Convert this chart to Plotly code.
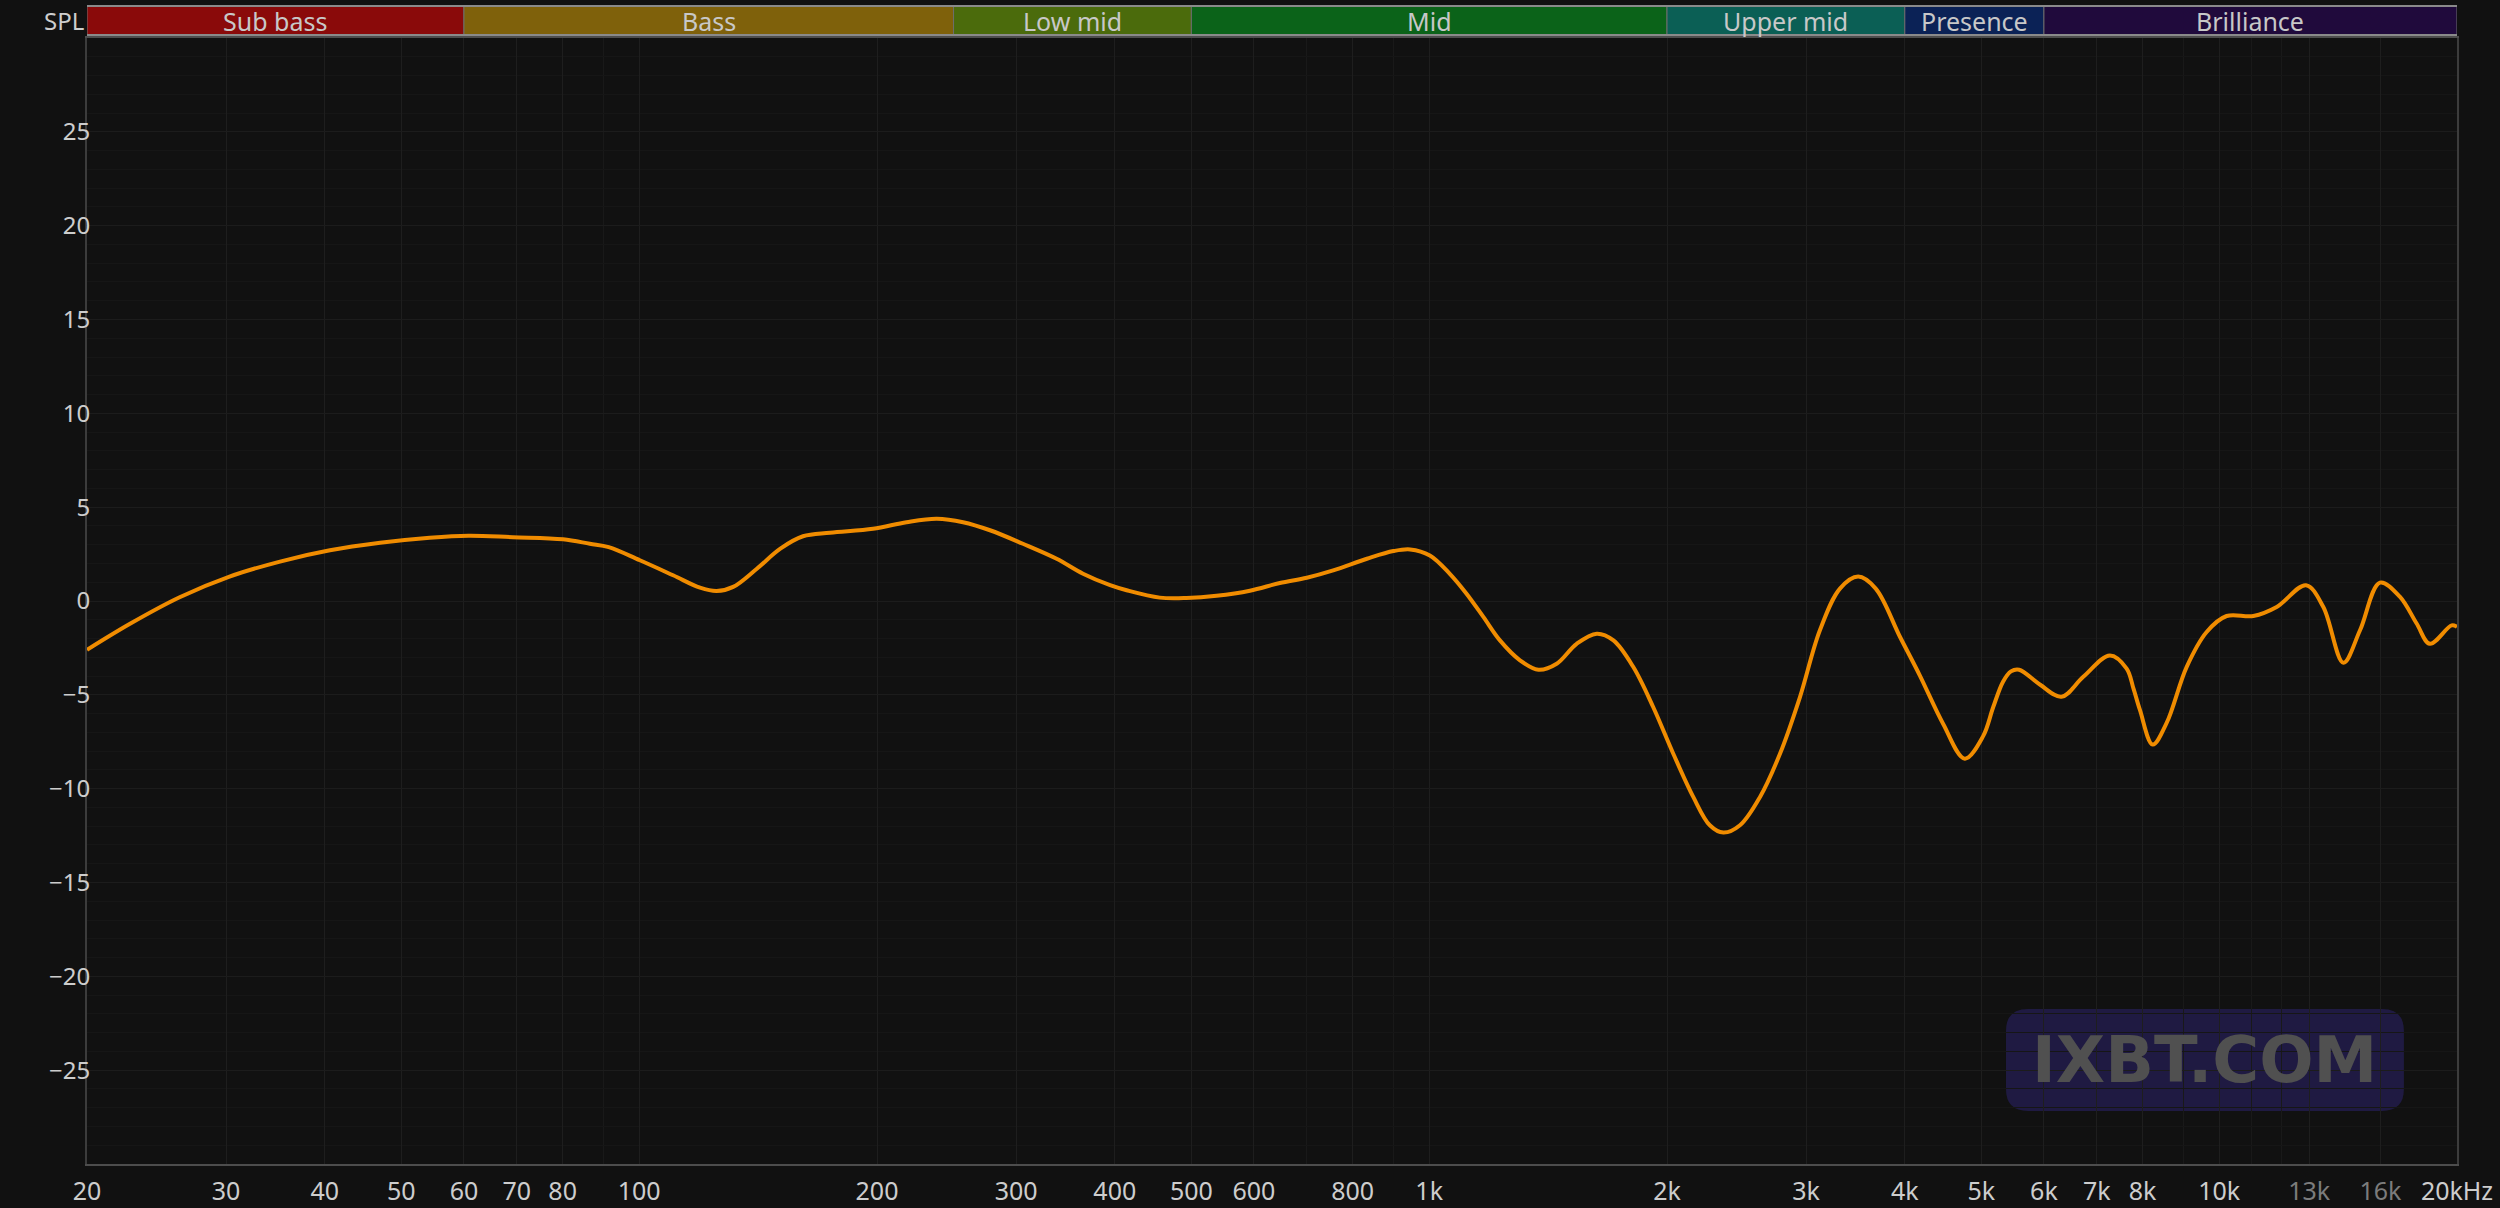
"""Frequency response chart (SPL vs frequency), dark theme."""

import math

import plotly.graph_objects as go

FREQ_HZ = [
    20, 22.7, 26.2, 30.3, 35.1, 40.6, 47, 54.3, 60.8, 69.2, 80.1, 86.6, 91.5,
    100.2, 110.4, 119.4, 125.3, 131.5, 140.9, 150.9, 161.2, 174.4, 197.7, 218,
    238, 257, 278, 306, 337.6, 364.6, 394.5, 414, 456, 493, 538, 593, 647, 700,
    756, 834, 901, 946, 1002, 1062, 1115, 1171, 1229, 1303, 1375, 1450, 1537,
    1630, 1711, 1813, 1921, 2037, 2159, 2266, 2357, 2474, 2623, 2780, 2946,
    3123, 3311, 3492, 3675, 3945, 4178, 4472, 4764, 5026, 5176, 5326, 5450, 5581,
    5929, 6315, 6729, 7273, 7636, 7790, 7939, 8238, 8580, 9094, 9641, 10220,
    11047, 11824, 12880, 13546, 14361, 15076, 15976, 16930, 17780, 18480, 19690,
    20000,
]
SPL_DB = [
    -2.6, -1.2, 0.2, 1.3, 2.1, 2.7, 3.1, 3.37, 3.48, 3.4, 3.29, 3.05, 2.87,
    2.17, 1.37, 0.71, 0.53, 0.75, 1.72, 2.79, 3.45, 3.64, 3.85, 4.2,
    4.38, 4.2, 3.77, 3.05, 2.25, 1.45, 0.84, 0.57, 0.18, 0.16, 0.28, 0.55, 0.96, 1.24,
    1.63, 2.25, 2.66, 2.75, 2.43, 1.45, 0.39, -0.85, -2.1, -3.16, -3.66, -3.34, -2.28,
    -1.74, -2.1, -3.52, -5.65, -8.14, -10.44, -11.95, -12.34, -11.95, -10.44, -8.14, -5.13,
    -1.56, 0.66, 1.3, 0.66, -1.92, -3.96, -6.54, -8.4, -7.2, -5.65, -4.3, -3.75, -3.66,
    -4.45, -5.1, -4.04, -2.9, -3.6, -4.67, -5.82, -7.65, -6.5, -3.52, -1.65, -0.8,
    -0.8, -0.32, 0.84, -0.32, -3.29, -1.56, 0.98, 0.23, -1.2, -2.28, -1.3,
    -1.38,
]

X_TICKS = [20, 30, 40, 50, 60, 70, 80, 100, 200, 300, 400, 500, 600, 800,
           1000, 2000, 3000, 4000, 5000, 6000, 7000, 8000, 10000, 13000, 16000, 20000]
X_LABELS = ["20", "30", "40", "50", "60", "70", "80", "100", "200", "300", "400",
            "500", "600", "800", "1k", "2k", "3k", "4k", "5k", "6k", "7k", "8k",
            "10k", "13k", "16k", "20kHz"]
X_DIM_LABELS = ["13k", "16k"]
X_MINOR = [90, 700, 900, 9000, 11000, 12000]
Y_TICKS = [-25, -20, -15, -10, -5, 0, 5, 10, 15, 20, 25]

BAND_NAMES = ["Sub bass", "Bass", "Low mid", "Mid", "Upper mid", "Presence", "Brilliance"]
BAND_EDGES = [20, 60, 250, 500, 2000, 4000, 6000, 20000]
BAND_COLORS = ["#8a0a0a", "#7f610b", "#4b6b0c", "#0b6319", "#0b5f55", "#0b2256", "#200a3c"]

BG = "#111111"
TEXT = "#cdcdcd"
FONT = "Noto Sans"

fig = go.Figure()
fig.add_trace(
    go.Scatter(
        x=FREQ_HZ,
        y=SPL_DB,
        mode="lines",
        line=dict(color="#f08c00", width=4, shape="spline", smoothing=1.0),
        hoverinfo="skip",
        showlegend=False,
    )
)

tick_text = [
    f'<span style="color:#7c7c7c">{t}</span>' if t in X_DIM_LABELS else t
    for t in X_LABELS
]

fig.update_xaxes(
    type="log",
    range=[math.log10(20), math.log10(20000)],
    tickmode="array",
    tickvals=X_TICKS,
    ticktext=tick_text,
    ticks="",
    ticklabelstandoff=4,
    tickfont=dict(family=FONT, size=25, color=TEXT),
    showgrid=True,
    gridcolor="#1e1e1e",
    gridwidth=1,
    minor=dict(tickvals=X_MINOR, showgrid=True, gridcolor="#191919"),
    showline=True,
    linecolor="#4d4d4d",
    linewidth=2,
    mirror=True,
    zeroline=False,
    automargin=False,
    fixedrange=True,
)
fig.update_yaxes(
    range=[-30, 30],
    tickmode="array",
    tickvals=Y_TICKS,
    ticks="",
    ticklabelstandoff=-10,
    tickfont=dict(family=FONT, size=24, color=TEXT),
    showgrid=True,
    gridcolor="#1c1c1c",
    minor=dict(dtick=1, tick0=0, showgrid=True, gridcolor="#161616"),
    showline=True,
    linecolor="#3c3c3c",
    linewidth=2,
    mirror=True,
    zeroline=False,
    automargin=False,
    fixedrange=True,
)

# frequency band strip above the plot
band_y0, band_y1 = 1.00266, 1.0284
for name, lo, hi, color in zip(BAND_NAMES, BAND_EDGES[:-1], BAND_EDGES[1:], BAND_COLORS):
    fig.add_shape(
        type="rect", xref="x", yref="paper",
        x0=lo, x1=hi, y0=band_y0, y1=band_y1,
        fillcolor=color, line=dict(color="#6e6e6e", width=1), layer="above",
    )
    fig.add_annotation(
        x=math.log10(math.sqrt(lo * hi)), xref="x",
        y=(band_y0 + band_y1) / 2, yref="paper",
        text=name, showarrow=False,
        font=dict(family=FONT, size=25, color="#c8c8c8"),
        xanchor="center", yanchor="middle",
    )
fig.add_shape(
    type="line", xref="paper", yref="paper", x0=0, x1=1, y0=band_y1, y1=band_y1,
    line=dict(color="#8a8a8a", width=2), layer="above",
)
fig.add_shape(
    type="line", xref="paper", yref="paper", x0=0, x1=1, y0=band_y0, y1=band_y0,
    line=dict(color="#8a8a8a", width=2), layer="above",
)

fig.add_annotation(
    x=-0.0005, xref="paper", y=1.0155, yref="paper",
    text="SPL", showarrow=False, xanchor="right", yanchor="middle",
    font=dict(family=FONT, size=24, color=TEXT),
)

# watermark badge
x0, x1, y0, y1 = 0.8097, 0.9776, 0.0471, 0.1377
rx, ry = 0.0093, 0.0195
path = (
    f"M {x0 + rx},{y0} L {x1 - rx},{y0} Q {x1},{y0} {x1},{y0 + ry} "
    f"L {x1},{y1 - ry} Q {x1},{y1} {x1 - rx},{y1} "
    f"L {x0 + rx},{y1} Q {x0},{y1} {x0},{y1 - ry} "
    f"L {x0},{y0 + ry} Q {x0},{y0} {x0 + rx},{y0} Z"
)
fig.add_shape(
    type="path", xref="paper", yref="paper", path=path,
    fillcolor="rgba(45,35,115,0.5)", line=dict(width=0), layer="below",
)
fig.add_annotation(
    x=(x0 + x1) / 2, xref="paper", y=(y0 + y1) / 2, yref="paper",
    text="<b>IXBT.COM</b>", showarrow=False, xanchor="center", yanchor="middle",
    font=dict(family="DejaVu Sans", size=64, color="#505050"),
)

fig.update_layout(
    width=2500,
    height=1208,
    margin=dict(l=87, r=43, t=38, b=44, autoexpand=False),
    paper_bgcolor=BG,
    plot_bgcolor=BG,
    showlegend=False,
)

fig.write_html(
    "out.html",
    config={"displayModeBar": False, "responsive": False},
    post_script=(
        "document.documentElement.style.margin='0';"
        "document.documentElement.style.overflow='hidden';"
        "document.body.style.margin='0';"
        "document.body.style.overflow='hidden';"
        "document.body.style.background='#111111';"
    ),
)
